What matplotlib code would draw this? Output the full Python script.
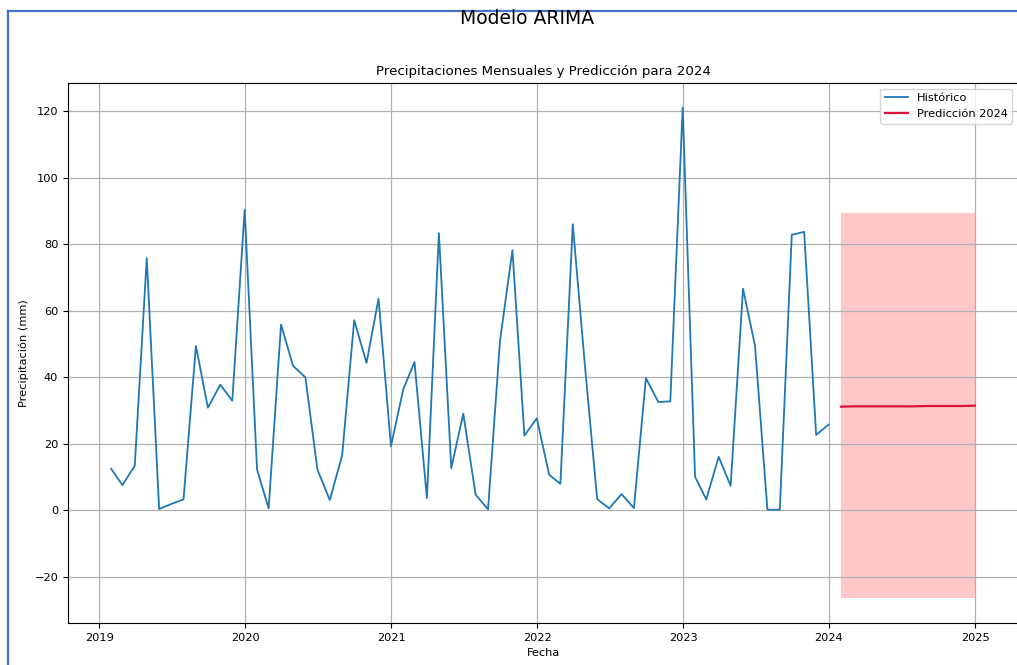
import matplotlib
matplotlib.use("Agg")
import matplotlib.pyplot as plt
import pandas as pd
from matplotlib.lines import Line2D

# Monthly precipitation (mm), Jan 2019 - Dec 2023, month-end dates
hist_start = "2019-01-31"
precip_2019 = [12.4, 7.5, 13.3, 75.8, 0.3, 1.8, 3.2, 49.4, 30.8, 37.7, 32.9, 90.3]
precip_2020 = [12.2, 0.5, 55.8, 43.4, 39.9, 12.2, 3.0, 16.5, 57.1, 44.3, 63.6, 19.2]
precip_2021 = [36.4, 44.5, 3.6, 83.3, 12.6, 29.0, 4.6, 0.2, 51.0, 78.2, 22.4, 27.6]
precip_2022 = [10.6, 7.9, 86.0, 44.0, 3.3, 0.5, 4.8, 0.6, 39.7, 32.5, 32.7, 121.1]
precip_2023 = [10.0, 3.2, 16.0, 7.3, 66.6, 49.4, 0.1, 0.1, 82.8, 83.7, 22.6, 25.7]

# ARIMA forecast for 2024 with its confidence band
forecast_start = "2024-01-31"
forecast_2024 = [31.1, 31.2, 31.2, 31.2, 31.2, 31.2, 31.2, 31.3, 31.3, 31.3, 31.3, 31.4]
conf_lower = [-26.6] * 12
conf_upper = [89.3] * 12

historico = pd.Series(
    precip_2019 + precip_2020 + precip_2021 + precip_2022 + precip_2023,
    index=pd.date_range(hist_start, periods=60, freq=pd.offsets.MonthEnd()),
)
pred_index = pd.date_range(forecast_start, periods=12, freq=pd.offsets.MonthEnd())
prediccion = pd.Series(forecast_2024, index=pred_index)

fig = plt.figure(figsize=(10.17, 6.65), dpi=100)
ax = fig.add_axes([68 / 1017, 1 - 623 / 665, 950 / 1017, 540 / 665])

ax.plot(historico.index, historico.values, color="#1f77b4", linewidth=1.3,
        label="Histórico")
ax.plot(prediccion.index, prediccion.values, color="crimson", linewidth=1.6,
        label="Predicción 2024")
ax.fill_between(pred_index, conf_lower, conf_upper, color="red", alpha=0.22,
                linewidth=0)

ax.set_title("Precipitaciones Mensuales y Predicción para 2024", fontsize=9.6)
ax.set_xlabel("Fecha", fontsize=8.2)
ax.set_ylabel("Precipitación (mm)", fontsize=8.2)
ax.tick_params(labelsize=8.2)
ax.grid(True, color="#b0b0b0", linewidth=0.9)
ax.spines["right"].set_visible(False)
ax.legend(loc="upper right", fontsize=8.2)

fig.text(527 / 1017, 1 - 18 / 665, "Modelo ARIMA", ha="center", va="center",
         fontsize=13.5)

# blue document frame around the figure
frame_color = "#4472C4"
fig.add_artist(Line2D([8 / 1017, 1.0], [1 - 10.5 / 665, 1 - 10.5 / 665],
                      transform=fig.transFigure, color=frame_color, linewidth=1.6))
fig.add_artist(Line2D([8 / 1017, 8 / 1017], [0.0, 1 - 10.5 / 665],
                      transform=fig.transFigure, color=frame_color, linewidth=1.6))

fig.savefig("out.png", dpi=100)
